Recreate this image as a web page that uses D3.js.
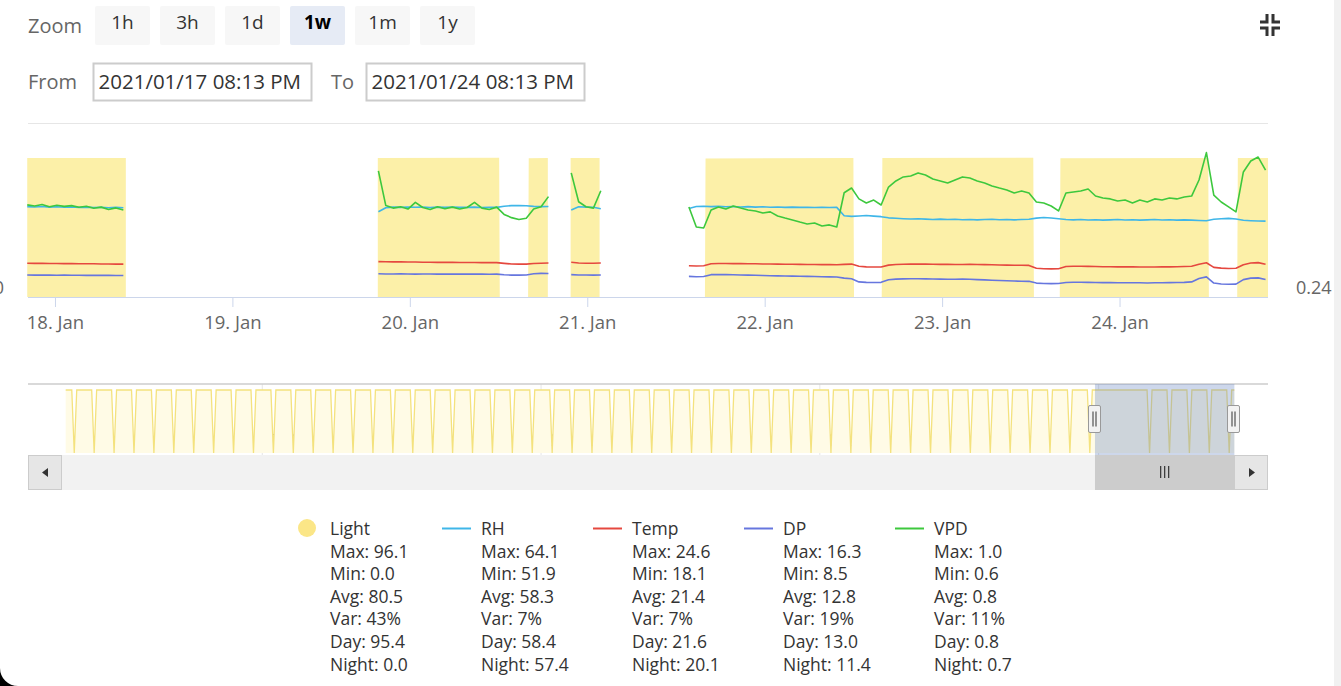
<!DOCTYPE html>
<html>
<head>
<meta charset="utf-8">
<script src="https://cdn.jsdelivr.net/npm/d3@7"></script>
<style>
  body { margin: 0; background: #fff; }
  svg { display: block; font-family: "Open Sans", sans-serif; }
</style>
</head>
<body>
<svg id="chart" width="1341" height="686"></svg>
<script>
// ---- data ----
var zoomButtons = ["1h", "3h", "1d", "1w", "1m", "1y"];
var selectedZoom = "1w";
var rangeFrom = "2021/01/17 08:13 PM";
var rangeTo = "2021/01/24 08:13 PM";
var viewStart = "2021-01-17T20:13";
var viewEnd = "2021-01-24T20:13";
var xTicks = ["2021-01-18", "2021-01-19", "2021-01-20", "2021-01-21", "2021-01-22", "2021-01-23", "2021-01-24"];

// hourly readings, one array per recording segment
var segStarts = ["2021-01-17T20:15", "2021-01-19T19:45", "2021-01-20T21:50", "2021-01-21T13:45"];

var rh = [
  [62.3,62.1,62.4,62.0,62.2,61.9,62.1,61.8,62.0,61.7,61.9,61.6,61.8,61.5],
  [58.8,61.6,62.0,61.8,62.1,61.9,62.0,61.7,62.0,61.8,62.1,61.9,61.8,62.0,61.7,61.9,61.8,62.6,63.0,63.1,62.9,62.5,62.3,62.4],
  [60.0,62.2,62.0,61.9,60.8],
  [61.0,62.4,62.6,62.3,62.5,62.2,62.4,62.1,62.3,62.0,
   62.2,61.9,62.1,61.8,62.0,61.8,61.9,61.7,61.9,61.7,
   61.8,56.0,55.6,55.9,56.2,55.8,55.4,54.6,54.3,54.0,
   53.8,54.0,53.7,53.5,53.7,53.4,53.6,53.3,53.5,53.2,
   53.4,53.6,53.3,53.5,53.2,53.4,53.6,54.4,54.8,54.5,
   54.0,53.5,53.2,53.4,53.1,53.3,53.0,53.2,53.4,53.1,
   53.3,53.0,53.2,53.4,53.1,53.3,53.0,53.2,53.0,52.8,
   52.6,53.6,54.0,54.2,53.8,52.9,52.6,52.4,52.3]
];

var temp = [
  [23.3,23.2,23.2,23.1,23.1,23.0,23.0,22.9,22.9,22.9,22.8,22.8,22.7,22.7],
  [24.4,24.3,24.2,24.2,24.1,24.1,24.0,24.0,23.9,23.9,23.9,23.8,23.8,23.8,23.7,23.7,23.7,23.2,22.8,22.7,22.7,23.1,23.3,23.4],
  [24.0,23.5,23.3,23.3,23.4],
  [21.5,21.4,21.5,22.9,23.1,23.1,23.0,23.0,22.9,22.9,
   22.8,22.8,22.7,22.6,22.6,22.5,22.4,22.4,22.3,22.3,
   22.2,22.5,22.7,21.2,20.8,20.7,20.7,22.0,22.4,22.6,
   22.7,22.8,22.7,22.6,22.5,22.5,22.4,22.4,22.5,22.4,
   22.3,22.2,22.1,22.0,21.9,21.9,21.8,19.8,19.5,19.4,
   19.5,21.0,21.2,21.2,21.1,21.0,20.9,20.9,20.8,20.8,
   20.8,20.7,20.7,20.7,20.8,20.8,20.9,21.0,21.2,22.6,
   23.6,20.4,19.9,19.7,19.8,22.3,23.4,23.7,22.6]
];

var dp = [
  [15.2,15.1,15.2,15.1,15.0,15.1,15.0,15.0,14.9,15.0,14.9,14.9,14.8,14.8],
  [16.0,15.9,15.9,16.0,15.9,15.8,15.9,15.9,15.8,15.9,15.8,15.8,15.9,15.8,15.8,15.7,15.8,15.3,15.1,15.1,15.2,16.0,16.3,16.2],
  [15.4,15.2,15.2,15.1,15.2],
  [14.2,14.0,14.1,15.4,15.5,15.4,15.3,15.2,15.1,15.0,
   14.8,14.7,14.6,14.5,14.4,14.3,14.2,14.1,14.0,13.9,
   13.8,13.0,12.6,10.4,10.1,10.0,10.1,11.9,12.3,12.5,
   12.6,12.6,12.5,12.4,12.3,12.2,12.2,12.3,12.2,12.0,
   11.8,11.6,11.4,11.2,11.0,10.9,10.8,9.6,9.3,9.2,
   9.3,10.0,10.2,10.2,10.1,10.0,9.9,9.9,9.8,9.8,
   9.8,9.8,9.7,9.8,9.8,9.9,10.0,10.1,10.4,12.8,
   13.9,9.6,9.0,8.8,8.9,12.0,13.0,13.2,12.1]
];

var vpd = [
  [0.722,0.716,0.724,0.712,0.720,0.714,0.718,0.709,0.715,0.704,0.710,0.698,0.706,0.695],
  [0.900,0.718,0.705,0.712,0.700,0.735,0.708,0.698,0.712,0.702,0.710,0.700,0.708,0.735,0.705,0.698,0.710,0.672,0.655,0.645,0.652,0.700,0.712,0.765],
  [0.889,0.738,0.712,0.705,0.796],
  [0.711,0.606,0.601,0.695,0.711,0.700,0.716,0.705,0.695,0.690,
   0.679,0.685,0.664,0.653,0.643,0.632,0.622,0.627,0.611,0.617,
   0.606,0.785,0.810,0.753,0.732,0.747,0.721,0.815,0.847,0.868,
   0.873,0.889,0.878,0.857,0.847,0.836,0.852,0.868,0.862,0.847,
   0.836,0.821,0.810,0.800,0.784,0.794,0.784,0.737,0.732,0.716,
   0.690,0.784,0.789,0.794,0.805,0.768,0.758,0.753,0.742,0.747,
   0.732,0.747,0.737,0.753,0.747,0.758,0.753,0.763,0.768,0.852,
   0.995,0.773,0.737,0.711,0.685,0.894,0.951,0.972,0.904]
];

// light: value null = gap in recording
var lightTimes = [
  "2021-01-17T20:15","2021-01-18T09:35","",
  "2021-01-19T19:40","2021-01-20T12:05","2021-01-20T12:10","2021-01-20T16:00","2021-01-20T16:05","2021-01-20T18:40","",
  "2021-01-20T21:45","2021-01-21T01:40","",
  "2021-01-21T13:45","2021-01-21T15:55","2021-01-21T16:00","2021-01-22T12:00","2021-01-22T12:05","2021-01-22T15:50",
  "2021-01-22T15:55","2021-01-23T12:20","2021-01-23T12:25","2021-01-23T15:55","2021-01-23T16:00","2021-01-24T12:00",
  "2021-01-24T12:05","2021-01-24T15:55","2021-01-24T16:00","2021-01-24T20:05"
];
var lightValues = [
  95.8,95.9,null,
  95.9,96.1,0,0,95.7,95.8,null,
  95.9,95.8,null,
  0,0,95.6,95.9,0,0,
  95.8,96.0,0,0,95.7,95.9,
  0,0,95.8,95.9
];

// navigator: days the light went off (dips), whole history
var navStart = "2020-11-27T03:40";
var navOffDays = [
  "2020-11-27","2020-11-28","2020-11-29","2020-11-30",
  "2020-12-01","2020-12-02","2020-12-03","2020-12-04","2020-12-05","2020-12-06","2020-12-07","2020-12-08",
  "2020-12-09","2020-12-10","2020-12-11","2020-12-12","2020-12-13","2020-12-14","2020-12-15","2020-12-16",
  "2020-12-17","2020-12-18","2020-12-19","2020-12-20","2020-12-21","2020-12-22","2020-12-23","2020-12-24",
  "2020-12-25","2020-12-26","2020-12-27","2020-12-28","2020-12-29","2020-12-30","2020-12-31",
  "2021-01-01","2021-01-02","2021-01-03","2021-01-04","2021-01-05","2021-01-06","2021-01-07","2021-01-08",
  "2021-01-09","2021-01-10","2021-01-11","2021-01-12","2021-01-13","2021-01-14","2021-01-15","2021-01-16",
  "2021-01-17","2021-01-20","2021-01-21","2021-01-22","2021-01-23","2021-01-24"
];
var navTicks = ["2020-12-07", "2020-12-21", "2021-01-04", "2021-01-18"];
var navDomain = ["2020-11-25T06:15", "2021-01-26T12:45"];

var legendNames = ["Light", "RH", "Temp", "DP", "VPD"];
var legendColors = ["#fbe687", "#3fb6e8", "#e5483f", "#6676de", "#3dc83d"];
var statLabels = ["Max", "Min", "Avg", "Var", "Day", "Night"];
var statsLight = ["96.1", "0.0", "80.5", "43%", "95.4", "0.0"];
var statsRH = ["64.1", "51.9", "58.3", "7%", "58.4", "57.4"];
var statsTemp = ["24.6", "18.1", "21.4", "7%", "21.6", "20.1"];
var statsDP = ["16.3", "8.5", "12.8", "19%", "13.0", "11.4"];
var statsVPD = ["1.0", "0.6", "0.8", "11%", "0.8", "0.7"];

// ---- drawing ----
var parse = d3.timeParse("%Y-%m-%dT%H:%M");
var parseDay = d3.timeParse("%Y-%m-%d");
var svg = d3.select("#chart");

var plotLeft = 27, plotRight = 1269, plotTop = 123, plotBottom = 297;

var x = d3.scaleTime().domain([parse(viewStart), parse(viewEnd)]).range([plotLeft, plotRight]);
var y = d3.scaleLinear().domain([0, 120]).range([plotBottom, plotTop]);
var yVpd = d3.scaleLinear().domain([0.24, 1.15]).range([plotBottom, plotTop]);

// phone scrollbar strip
svg.append("rect").attr("x", 1334).attr("y", 0).attr("width", 7).attr("height", 686).attr("fill", "#f1f1f1");

// range selector
svg.append("text").attr("x", 28).attr("y", 25).attr("dominant-baseline", "central")
  .attr("font-size", 20).attr("fill", "#666").text("Zoom");
var btn = svg.selectAll("g.btn").data(zoomButtons).enter().append("g")
  .attr("class", "btn")
  .attr("transform", (d, i) => `translate(${95 + i * 65},6)`);
btn.append("rect").attr("width", 55).attr("height", 39).attr("rx", 2)
  .attr("fill", d => d == selectedZoom ? "#e6ebf5" : "#f7f7f7");
btn.append("text").attr("x", 27.5).attr("y", 16).attr("text-anchor", "middle")
  .attr("dominant-baseline", "central").attr("font-size", 19)
  .attr("font-weight", d => d == selectedZoom ? "bold" : "normal")
  .attr("fill", d => d == selectedZoom ? "#000" : "#333").text(d => d);

svg.append("text").attr("x", 28).attr("y", 81).attr("dominant-baseline", "central")
  .attr("font-size", 20).attr("fill", "#666").text("From");
svg.append("text").attr("x", 331).attr("y", 81).attr("dominant-baseline", "central")
  .attr("font-size", 20).attr("fill", "#666").text("To");
[[93.5, rangeFrom], [366.5, rangeTo]].forEach(function(b) {
  svg.append("rect").attr("x", b[0]).attr("y", 63.5).attr("width", 218).attr("height", 37)
    .attr("fill", "#fff").attr("stroke", "#ccc").attr("stroke-width", 2);
  svg.append("text").attr("x", b[0] + 5).attr("y", 81).attr("dominant-baseline", "central")
    .attr("font-size", 20.5).attr("fill", "#333").text(b[1]);
});

// exit fullscreen icon
svg.append("path")
  .attr("d", "M1260,22H1267V14M1273,14V22H1280M1260,28H1267V36M1273,36V28H1280")
  .attr("fill", "none").attr("stroke", "#333").attr("stroke-width", 3);

// grid + axis
svg.append("line").attr("x1", 28).attr("x2", 1268).attr("y1", plotTop + 0.5).attr("y2", plotTop + 0.5)
  .attr("stroke", "#e6e6e6");

svg.append("clipPath").attr("id", "plot").append("rect")
  .attr("x", plotLeft).attr("y", plotTop - 5).attr("width", plotRight - plotLeft).attr("height", plotBottom - plotTop + 5);
var plot = svg.append("g").attr("clip-path", "url(#plot)");

// light area
var lightData = lightTimes.map((t, i) => ({ t: t ? parse(t) : null, v: lightValues[i] }));
var area = d3.area().defined(d => d.v != null)
  .x(d => x(d.t)).y0(y(0)).y1(d => y(d.v));
plot.append("path").datum(lightData).attr("d", area).attr("fill", "#fcf0a8");

function segData(vals, s) {
  var t0 = parse(segStarts[s]);
  return vals.map((v, i) => ({ t: d3.timeHour.offset(t0, i), v: v }));
}
var series = [
  { vals: rh, scale: y, color: legendColors[1] },
  { vals: temp, scale: y, color: legendColors[2] },
  { vals: dp, scale: y, color: legendColors[3] },
  { vals: vpd, scale: yVpd, color: legendColors[4] }
];
series.forEach(function(s) {
  var line = d3.line().x(d => x(d.t)).y(d => s.scale(d.v));
  s.vals.forEach(function(arr, k) {
    plot.append("path").datum(segData(arr, k)).attr("d", line)
      .attr("fill", "none").attr("stroke", s.color).attr("stroke-width", 1.6)
      .attr("stroke-linejoin", "round");
  });
});

var xAxis = d3.axisBottom(x).tickValues(xTicks.map(parseDay))
  .tickFormat(d3.timeFormat("%-d. %b")).tickSize(10).tickSizeOuter(0).tickPadding(9);
var gx = svg.append("g").attr("transform", `translate(0,${plotBottom})`).call(xAxis);
gx.select(".domain").remove();
gx.selectAll(".tick line").attr("stroke", "#ccd6eb");
gx.selectAll(".tick text").attr("fill", "#666").attr("font-size", 18.5)
  .attr("font-family", "Open Sans, sans-serif");
svg.append("line").attr("x1", 28).attr("x2", 1268).attr("y1", plotBottom + 0.5).attr("y2", plotBottom + 0.5)
  .attr("stroke", "#ccd6eb");

svg.append("text").attr("x", 4).attr("y", 287).attr("text-anchor", "end")
  .attr("dominant-baseline", "central").attr("font-size", 18).attr("fill", "#666").text(y.domain()[0]);
svg.append("text").attr("x", 1296).attr("y", 287)
  .attr("dominant-baseline", "central").attr("font-size", 18).attr("fill", "#666").text(yVpd.domain()[0]);

// ---- navigator ----
var navTop = 384, navBottom = 455;
var navX = d3.scaleTime().domain(navDomain.map(parse)).range([28, 1268]);
var navY = d3.scaleLinear().domain([0, 96]).range([453, 390]);

var navGrid = d3.axisBottom(navX).tickValues(navTicks.map(parseDay))
  .tickFormat(d3.timeFormat("%-d. %b")).tickSize(-(navBottom - navTop)).tickSizeOuter(0);
var gn = svg.append("g").attr("transform", `translate(0,${navBottom})`).call(navGrid);
gn.select(".domain").remove();
gn.selectAll(".tick line").attr("stroke", "#e6e6e6");
gn.selectAll(".tick text").attr("fill", "#999").attr("font-size", 17)
  .attr("font-family", "Open Sans, sans-serif")
  .attr("text-anchor", "start").attr("x", 5).attr("y", -15).attr("dy", "0.35em");

var navData = [{ t: parse(navStart), v: 96 }];
navOffDays.forEach(function(d) {
  var day = parseDay(d);
  navData.push({ t: d3.timeHour.offset(day, 11), v: 96 });
  navData.push({ t: d3.timeHour.offset(day, 14), v: 0 });
  navData.push({ t: d3.timeHour.offset(day, 17), v: 96 });
});
navData.push({ t: parse(viewEnd), v: 96 });

svg.append("path").datum(navData)
  .attr("d", d3.area().x(d => navX(d.t)).y0(navY(0)).y1(d => navY(d.v)))
  .attr("fill", "#fffbe6");
svg.append("path").datum(navData)
  .attr("d", d3.line().x(d => navX(d.t)).y(d => navY(d.v)))
  .attr("fill", "none").attr("stroke", "#f4e27e").attr("stroke-width", 1.3);

svg.append("line").attr("x1", 28).attr("x2", 1268).attr("y1", navTop).attr("y2", navTop)
  .attr("stroke", "#cccccc").attr("stroke-width", 1.5);

var mx0 = navX(parse(viewStart)), mx1 = navX(parse(viewEnd));
svg.append("rect").attr("x", mx0).attr("y", navTop).attr("width", mx1 - mx0)
  .attr("height", navBottom - navTop).attr("fill", "rgba(102,133,194,0.33)");

[mx0, mx1].forEach(function(hx) {
  var g = svg.append("g").attr("transform", `translate(${Math.round(hx) - 6.5},405.5)`);
  g.append("rect").attr("width", 12).attr("height", 27).attr("rx", 1.5)
    .attr("fill", "#f2f2f2").attr("stroke", "#999");
  g.append("path").attr("d", "M4.5,6V21M7.5,6V21").attr("stroke", "#333").attr("stroke-width", 1);
});

// scrollbar
var sy = 455, sh = 35;
svg.append("rect").attr("x", 28).attr("y", sy).attr("width", 1240).attr("height", sh).attr("fill", "#f2f2f2");
svg.append("rect").attr("x", mx0).attr("y", sy).attr("width", mx1 - mx0).attr("height", sh)
  .attr("fill", "#cccccc");
svg.append("path")
  .attr("d", `M${(mx0 + mx1) / 2 - 4},466V478M${(mx0 + mx1) / 2},466V478M${(mx0 + mx1) / 2 + 4},466V478`)
  .attr("stroke", "#333").attr("stroke-width", 1.2);
[[28.5, "M48,468L42,472.5L48,477Z"], [1234.5, "M1249,468L1255,472.5L1249,477Z"]].forEach(function(b) {
  svg.append("rect").attr("x", b[0]).attr("y", sy + 0.5).attr("width", 33).attr("height", sh - 1)
    .attr("fill", "#e6e6e6").attr("stroke", "#cccccc");
  svg.append("path").attr("d", b[1]).attr("fill", "#333");
});

// ---- legend ----
var statCols = [statsLight, statsRH, statsTemp, statsDP, statsVPD];
var lg = svg.selectAll("g.leg").data(legendNames).enter().append("g")
  .attr("class", "leg")
  .attr("transform", (d, i) => `translate(${330 + i * 151},528)`);
lg.each(function(d, i) {
  var g = d3.select(this);
  if (i == 0) {
    g.append("circle").attr("cx", -23).attr("cy", 0).attr("r", 9).attr("fill", legendColors[0]);
  } else {
    g.append("line").attr("x1", -39).attr("x2", -10).attr("y1", 0.5).attr("y2", 0.5)
      .attr("stroke", legendColors[i]).attr("stroke-width", 2);
  }
  g.append("text").attr("dominant-baseline", "central").attr("font-size", 17.5)
    .attr("fill", "#333").text(d);
  statLabels.forEach(function(lab, k) {
    g.append("text").attr("y", 22.6 * (k + 1)).attr("dominant-baseline", "central")
      .attr("font-size", 17.5).attr("fill", "#333").text(lab + ": " + statCols[i][k]);
  });
});

// rounded screen corner
svg.append("path").attr("d", "M0,668A18,18 0 0 0 18,686L0,686Z").attr("fill", "#000");
</script>
</body>
</html>
